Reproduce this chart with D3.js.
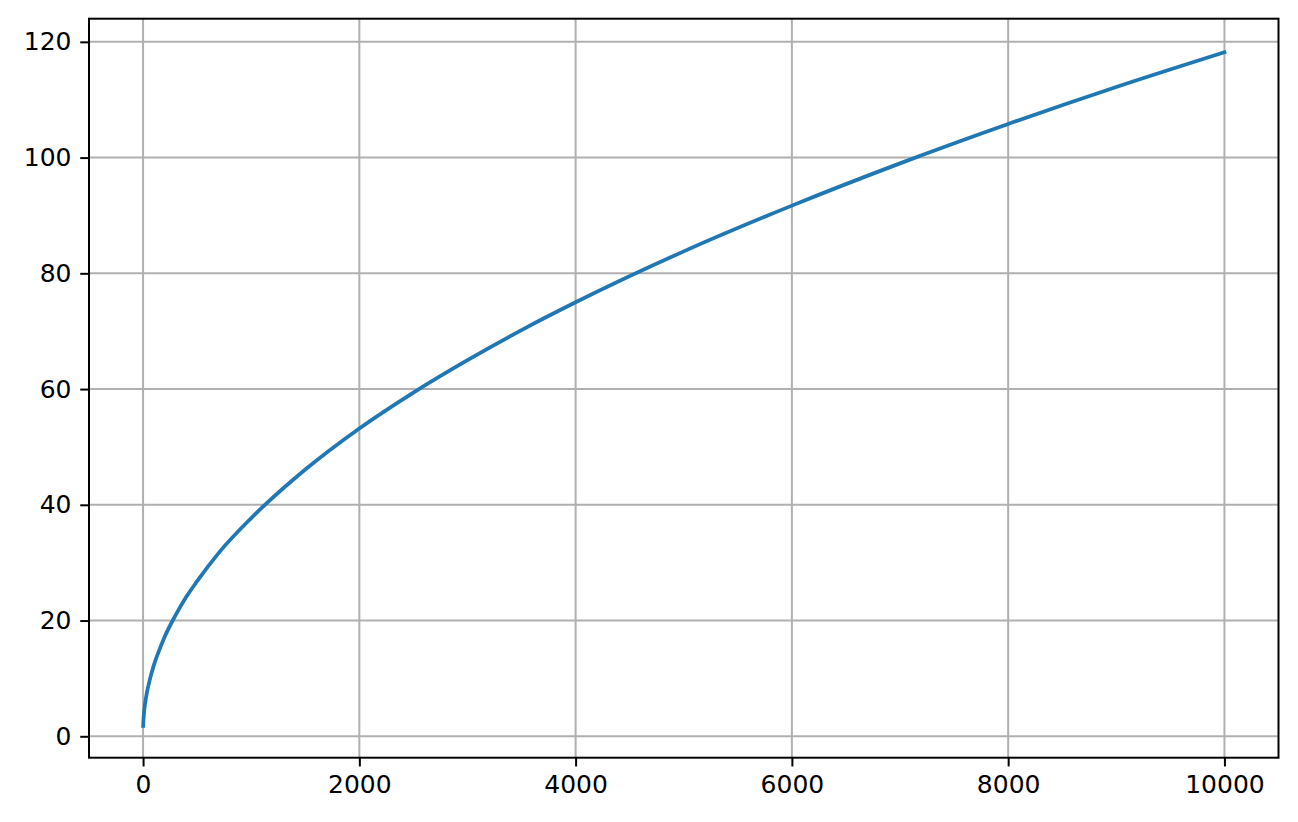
<!DOCTYPE html>
<html>
<head>
<meta charset="utf-8">
<script src="https://cdn.jsdelivr.net/npm/d3@7"></script>
<style>
  body { margin: 0; background: #fff; }
  .tick text { font-family: "DejaVu Sans", sans-serif; font-size: 25px; fill: #000; }
</style>
</head>
<body>
<div id="chart"></div>
<script>
// values
const xValues = [1, 3, 5, 10, 20, 35, 50, 75, 100, 150, 200, 300, 400, 500, 700, 1000, 1500, 2000, 2500, 3000, 3500, 4000, 5000, 6000, 7000, 8000, 9000, 10000];
const yValues = [1.8, 2.6, 3.2, 4.3, 5.8, 7.5, 8.8, 10.7, 12.3, 14.9, 17.2, 20.9, 24.1, 26.8, 31.7, 37.7, 46.1, 53.2, 59.4, 65.0, 70.2, 75.0, 83.8, 91.7, 99.0, 105.8, 112.2, 118.2];
const xTicks = [0, 2000, 4000, 6000, 8000, 10000];
const yTicks = [0, 20, 40, 60, 80, 100, 120];

const width = 1298, height = 822;
const margin = { top: 18.7, right: 19.5, bottom: 64.3, left: 89 };

const svg = d3.select("#chart").append("svg")
    .attr("width", width)
    .attr("height", height);

const x = d3.scaleLinear()
    .domain([-500, 10500])
    .range([margin.left, width - margin.right]);

const y = d3.scaleLinear()
    .domain([-3.7, 124.0])
    .range([height - margin.bottom, margin.top]);

// grid
svg.append("g")
    .selectAll("line.vgrid")
    .data(xTicks)
    .join("line")
    .attr("x1", d => x(d)).attr("x2", d => x(d))
    .attr("y1", margin.top).attr("y2", height - margin.bottom)
    .attr("stroke", "#b0b0b0").attr("stroke-width", 2);

svg.append("g")
    .selectAll("line.hgrid")
    .data(yTicks)
    .join("line")
    .attr("x1", margin.left).attr("x2", width - margin.right)
    .attr("y1", d => y(d)).attr("y2", d => y(d))
    .attr("stroke", "#b0b0b0").attr("stroke-width", 2);

// curve
const pts = xValues.map((v, i) => [v, yValues[i]]);
const line = d3.line()
    .x(d => x(d[0]))
    .y(d => y(d[1]))
    .curve(d3.curveMonotoneX);

svg.append("path")
    .datum(pts)
    .attr("fill", "none")
    .attr("stroke", "#1f77b4")
    .attr("stroke-width", 3.75)
    .attr("stroke-linecap", "square")
    .attr("d", line);

// axes
const xAxis = svg.append("g")
    .attr("transform", `translate(0,${height - margin.bottom})`)
    .call(d3.axisBottom(x).tickValues(xTicks).tickFormat(d3.format("d")).tickSize(8.75).tickPadding(8.75));

const yAxis = svg.append("g")
    .attr("transform", `translate(${margin.left},0)`)
    .call(d3.axisLeft(y).tickValues(yTicks).tickFormat(d3.format("d")).tickSize(8.75).tickPadding(8.75));

[xAxis, yAxis].forEach(g => {
    g.select(".domain").remove();
    g.selectAll(".tick line").attr("stroke", "#000").attr("stroke-width", 2);
});

// frame
svg.append("rect")
    .attr("x", margin.left)
    .attr("y", margin.top)
    .attr("width", width - margin.left - margin.right)
    .attr("height", height - margin.top - margin.bottom)
    .attr("fill", "none")
    .attr("stroke", "#000")
    .attr("stroke-width", 2);
</script>
</body>
</html>
